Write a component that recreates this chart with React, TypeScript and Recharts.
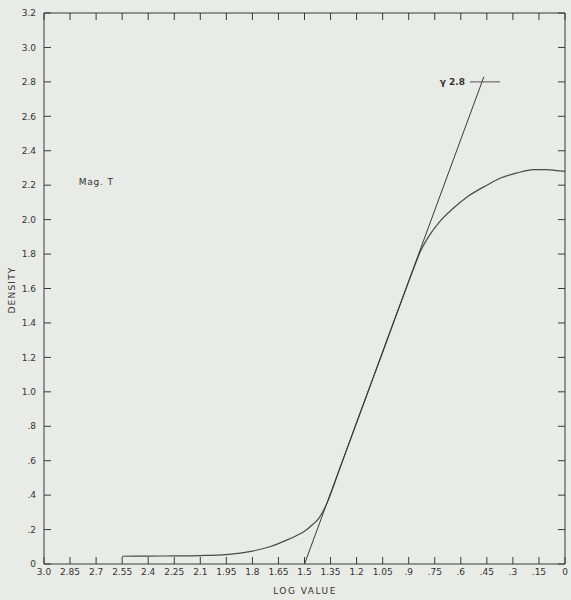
import { LineChart, Line, XAxis, YAxis, ReferenceDot } from "recharts";

const X_TICKS = [3.0, 2.85, 2.7, 2.55, 2.4, 2.25, 2.1, 1.95, 1.8, 1.65, 1.5, 1.35, 1.2, 1.05, 0.9, 0.75, 0.6, 0.45, 0.3, 0.15, 0];
const X_TICK_LABELS = ["3.0", "2.85", "2.7", "2.55", "2.4", "2.25", "2.1", "1.95", "1.8", "1.65", "1.5", "1.35", "1.2", "1.05", ".9", ".75", ".6", ".45", ".3", ".15", "0"];
const Y_TICKS = [0, 0.2, 0.4, 0.6, 0.8, 1.0, 1.2, 1.4, 1.6, 1.8, 2.0, 2.2, 2.4, 2.6, 2.8, 3.0, 3.2];
const Y_TICK_LABELS = ["0", ".2", ".4", ".6", ".8", "1.0", "1.2", "1.4", "1.6", "1.8", "2.0", "2.2", "2.4", "2.6", "2.8", "3.0", "3.2"];

// characteristic curve
const CURVE_LOG = [2.55, 2.4, 2.25, 2.1, 1.95, 1.8, 1.7, 1.6, 1.55, 1.5, 1.45, 1.42, 1.39, 1.37, 1.35, 1.3, 1.2, 1.05, 0.9, 0.87, 0.835, 0.78, 0.72, 0.65, 0.566, 0.45, 0.374, 0.28, 0.182, 0.105, 0.05, 0];
const CURVE_DENSITY = [0.045, 0.046, 0.047, 0.049, 0.055, 0.075, 0.1, 0.14, 0.163, 0.19, 0.232, 0.262, 0.312, 0.355, 0.405, 0.545, 0.82, 1.23, 1.64, 1.72, 1.81, 1.91, 1.99, 2.06, 2.13, 2.2, 2.24, 2.27, 2.29, 2.29, 2.285, 2.28];

// gamma tangent and its marker
const TANGENT_LOG = [1.5, 0.467];
const TANGENT_DENSITY = [0, 2.83];
const GAMMA_LOG = [0.547, 0.374];
const GAMMA_DENSITY = 2.8;
const GAMMA_LABEL = "γ 2.8";
const CURVE_LABEL = "Mag. T";
const CURVE_LABEL_AT = [2.8, 2.22];

const INK = "#3a3a3a";
const BG = "#e9ebe7";
const FONT = "'DejaVu Sans', sans-serif";
const TICK_LEN = 7;

const curveData = CURVE_LOG.map((x, i) => ({ x, y: CURVE_DENSITY[i] }));
const tangentData = TANGENT_LOG.map((x, i) => ({ x, y: TANGENT_DENSITY[i] }));
const gammaData = GAMMA_LOG.map((x) => ({ x, y: GAMMA_DENSITY }));

const fmtX = (v: number) => {
  const i = X_TICKS.findIndex((t) => Math.abs(t - v) < 1e-6);
  return i >= 0 ? X_TICK_LABELS[i] : String(v);
};
const fmtY = (v: number) => {
  const i = Y_TICKS.findIndex((t) => Math.abs(t - v) < 1e-6);
  return i >= 0 ? Y_TICK_LABELS[i] : String(v);
};

const tickStyle = { fill: "#333", fontSize: 9, fontFamily: FONT };

// tick mark pointing into the plot (mirror axes, tickSize/tickMargin 0 -> x,y is on the axis)
const inwardTick = (dx: number, dy: number) => (p: any) => (
  <line x1={p.x} y1={p.y} x2={p.x + dx * TICK_LEN} y2={p.y + dy * TICK_LEN} stroke={INK} strokeWidth={1} />
);

export default function App() {
  return (
    <div style={{ position: "absolute", left: 0, top: 0, width: 571, height: 600, background: BG }}>
      <LineChart width={571} height={600} margin={{ top: 13, right: 6, bottom: 16, left: 0 }}>
        {/* labelled axes */}
        <XAxis
          xAxisId="main"
          type="number"
          dataKey="x"
          domain={[0, 3]}
          reversed
          ticks={X_TICKS}
          tickFormatter={fmtX}
          interval={0}
          height={20}
          tickLine={false}
          tickSize={0}
          tickMargin={5}
          axisLine={{ stroke: INK }}
          tick={tickStyle}
          label={{
            content: () => (
              <text x={305} y={594} textAnchor="middle" fill="#333" fontSize={9} fontFamily={FONT} letterSpacing={1.5}>
                LOG VALUE
              </text>
            ),
          }}
        />
        <YAxis
          yAxisId="main"
          type="number"
          domain={[0, 3.2]}
          ticks={Y_TICKS}
          tickFormatter={fmtY}
          interval={0}
          width={44}
          tickLine={false}
          tickSize={0}
          tickMargin={8}
          axisLine={{ stroke: INK }}
          tick={tickStyle}
          label={{
            content: () => (
              <text
                x={15}
                y={290}
                transform="rotate(-90 15 290)"
                textAnchor="middle"
                fill="#333"
                fontSize={9}
                fontFamily={FONT}
                letterSpacing={1.2}
              >
                DENSITY
              </text>
            ),
          }}
        />

        {/* inward tick marks on all four sides */}
        <XAxis xAxisId="bt" type="number" dataKey="x" domain={[0, 3]} allowDataOverflow reversed ticks={X_TICKS} interval={0} mirror orientation="bottom" tickSize={0} tickMargin={0} tickLine={false} tick={inwardTick(0, -1)} axisLine={false} />
        <XAxis xAxisId="tp" type="number" dataKey="x" domain={[0, 3]} allowDataOverflow reversed ticks={X_TICKS} interval={0} mirror orientation="top" tickSize={0} tickMargin={0} tickLine={false} tick={inwardTick(0, 1)} axisLine={{ stroke: INK }} />
        <YAxis yAxisId="lt" type="number" domain={[0, 3.2]} allowDataOverflow ticks={Y_TICKS} interval={0} mirror orientation="left" tickSize={0} tickMargin={0} tickLine={false} tick={inwardTick(1, 0)} axisLine={false} />
        <YAxis yAxisId="rt" type="number" domain={[0, 3.2]} allowDataOverflow ticks={Y_TICKS} interval={0} mirror orientation="right" tickSize={0} tickMargin={0} tickLine={false} tick={inwardTick(-1, 0)} axisLine={{ stroke: INK }} />

        {/* invisible series so the frame axes get rendered */}
        <Line xAxisId="bt" yAxisId="lt" data={curveData} dataKey="y" stroke="none" dot={false} activeDot={false} isAnimationActive={false} />
        <Line xAxisId="tp" yAxisId="rt" data={curveData} dataKey="y" stroke="none" dot={false} activeDot={false} isAnimationActive={false} />

        <Line
          xAxisId="main"
          yAxisId="main"
          data={curveData}
          dataKey="y"
          type="monotone"
          stroke="#4a4a4a"
          strokeWidth={1.2}
          dot={false}
          isAnimationActive={false}
        />
        <Line
          xAxisId="main"
          yAxisId="main"
          data={tangentData}
          dataKey="y"
          type="linear"
          stroke={INK}
          strokeWidth={1}
          dot={false}
          isAnimationActive={false}
        />
        <Line
          xAxisId="main"
          yAxisId="main"
          data={gammaData}
          dataKey="y"
          type="linear"
          stroke="#555"
          strokeWidth={1}
          dot={false}
          isAnimationActive={false}
        />

        <ReferenceDot
          xAxisId="main"
          yAxisId="main"
          x={GAMMA_LOG[0]}
          y={GAMMA_DENSITY}
          r={0}
          stroke="none"
          fill="none"
          label={{
            content: (p: any) => (
              <text x={p.viewBox.x - 5} y={p.viewBox.y + 3} textAnchor="end" fill="#333" fontSize={9} fontFamily={FONT} fontWeight="bold">
                {GAMMA_LABEL}
              </text>
            ),
          }}
        />
        <ReferenceDot
          xAxisId="main"
          yAxisId="main"
          x={CURVE_LABEL_AT[0]}
          y={CURVE_LABEL_AT[1]}
          r={0}
          stroke="none"
          fill="none"
          label={{
            content: (p: any) => (
              <text x={p.viewBox.x} y={p.viewBox.y + 3} textAnchor="start" fill="#333" fontSize={9} fontFamily={FONT} letterSpacing={0.8}>
                {CURVE_LABEL}
              </text>
            ),
          }}
        />
      </LineChart>
    </div>
  );
}
